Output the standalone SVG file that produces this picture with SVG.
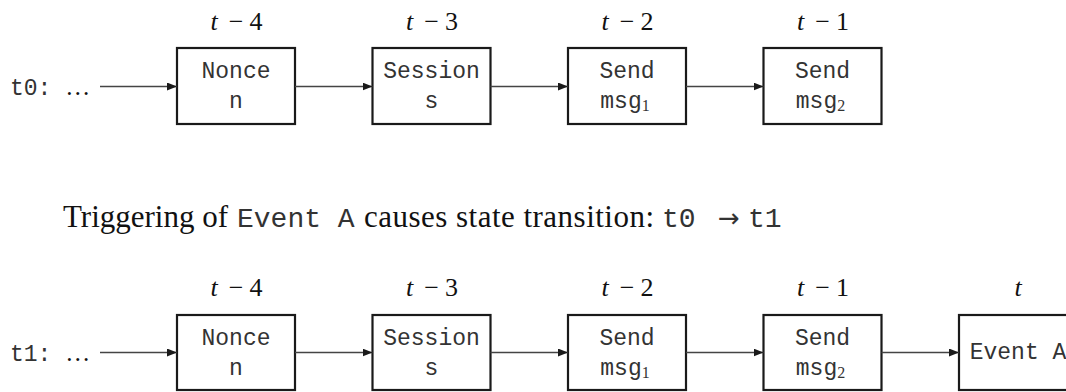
<svg xmlns="http://www.w3.org/2000/svg" width="1066" height="392" viewBox="0 0 1066 392">
  <style>
    .box { fill: #ffffff; stroke: #1a1a1a; stroke-width: 2.2; }
    .mono { font-family: "Liberation Mono", "Courier New", monospace; font-size: 23px; fill: #333333; text-anchor: middle; }
    .monol { font-family: "Liberation Mono", "Courier New", monospace; font-size: 23px; fill: #333333; }
    .serif { font-family: "Liberation Serif", "Times New Roman", serif; font-size: 25px; fill: #111111; }
    .math { font-family: "Liberation Serif", "Times New Roman", serif; font-size: 26px; fill: #111111; text-anchor: middle; }
    .it { font-style: italic; }
    .sub { font-family: "Liberation Serif", "Times New Roman", serif; font-size: 16px; }
    .cap { font-family: "Liberation Serif", "Times New Roman", serif; font-size: 31px; fill: #111111; }
    .capmono { font-family: "Liberation Mono", "Courier New", monospace; font-size: 28px; fill: #333333; }
    .edge { stroke: #444444; stroke-width: 1.3; fill: none; marker-end: url(#arrow); }
  </style>
  <defs>
    <marker id="arrow" viewBox="0 0 10 8" refX="10" refY="4" markerWidth="10" markerHeight="8" markerUnits="userSpaceOnUse" orient="auto">
      <path d="M0,0 L10,4 L0,8 Z" fill="#1a1a1a"/>
    </marker>
  </defs>
  <rect width="1066" height="392" fill="#ffffff"/>

  <!-- row t0 -->
  <g id="row0-label">
    <text class="monol" x="10" y="95">t0: <tspan class="serif">…</tspan></text>
  </g>

  <g id="row0-nonce">
    <rect class="box" x="177" y="48" width="118" height="76"/>
    <text class="math" y="30"><tspan class="it" x="214">t</tspan><tspan x="236">−</tspan><tspan x="256">4</tspan></text>
    <text class="mono" x="236" y="78">Nonce</text>
    <text class="mono" x="236" y="108">n</text>
  </g>
  <g id="row0-session">
    <rect class="box" x="372.5" y="48" width="118" height="76"/>
    <text class="math" y="30"><tspan class="it" x="409.5">t</tspan><tspan x="431.5">−</tspan><tspan x="451.5">3</tspan></text>
    <text class="mono" x="431.5" y="78">Session</text>
    <text class="mono" x="431.5" y="108">s</text>
  </g>
  <g id="row0-send1">
    <rect class="box" x="568" y="48" width="118" height="76"/>
    <text class="math" y="30"><tspan class="it" x="605">t</tspan><tspan x="627">−</tspan><tspan x="647">2</tspan></text>
    <text class="mono" x="627" y="78">Send</text>
    <text class="mono" x="625" y="108">msg<tspan class="sub" dy="3">1</tspan></text>
  </g>
  <g id="row0-send2">
    <rect class="box" x="763.5" y="48" width="118" height="76"/>
    <text class="math" y="30"><tspan class="it" x="800.5">t</tspan><tspan x="822.5">−</tspan><tspan x="842.5">1</tspan></text>
    <text class="mono" x="822.5" y="78">Send</text>
    <text class="mono" x="820.5" y="108">msg<tspan class="sub" dy="3">2</tspan></text>
  </g>

  <g id="row0-connectors">
    <line class="edge" x1="100" y1="86.5" x2="177" y2="86.5"/>
    <line class="edge" x1="295" y1="86.5" x2="372.5" y2="86.5"/>
    <line class="edge" x1="490.5" y1="86.5" x2="568" y2="86.5"/>
    <line class="edge" x1="686" y1="86.5" x2="763.5" y2="86.5"/>
  </g>

  <!-- transition caption -->
  <g id="caption">
    <text class="cap" x="63" y="227">Triggering of</text>
    <text class="capmono" x="237" y="227">Event A</text>
    <text class="cap" x="364" y="227" textLength="290" lengthAdjust="spacing">causes state transition:</text>
    <text class="capmono" x="662" y="227">t0</text>
    <text x="729" y="227" text-anchor="middle" font-family="DejaVu Sans, sans-serif" font-size="26" fill="#333333">→</text>
    <text class="capmono" x="748" y="227">t1</text>
  </g>

  <!-- row t1 -->
  <g id="row1-label">
    <text class="monol" x="10" y="361">t1: <tspan class="serif">…</tspan></text>
  </g>

  <g id="row1-nonce">
    <rect class="box" x="177" y="315" width="118" height="75"/>
    <text class="math" y="296"><tspan class="it" x="214">t</tspan><tspan x="236">−</tspan><tspan x="256">4</tspan></text>
    <text class="mono" x="236" y="345">Nonce</text>
    <text class="mono" x="236" y="375">n</text>
  </g>
  <g id="row1-session">
    <rect class="box" x="372.5" y="315" width="118" height="75"/>
    <text class="math" y="296"><tspan class="it" x="409.5">t</tspan><tspan x="431.5">−</tspan><tspan x="451.5">3</tspan></text>
    <text class="mono" x="431.5" y="345">Session</text>
    <text class="mono" x="431.5" y="375">s</text>
  </g>
  <g id="row1-send1">
    <rect class="box" x="568" y="315" width="118" height="75"/>
    <text class="math" y="296"><tspan class="it" x="605">t</tspan><tspan x="627">−</tspan><tspan x="647">2</tspan></text>
    <text class="mono" x="627" y="345">Send</text>
    <text class="mono" x="625" y="375">msg<tspan class="sub" dy="3">1</tspan></text>
  </g>
  <g id="row1-send2">
    <rect class="box" x="763.5" y="315" width="118" height="75"/>
    <text class="math" y="296"><tspan class="it" x="800.5">t</tspan><tspan x="822.5">−</tspan><tspan x="842.5">1</tspan></text>
    <text class="mono" x="822.5" y="345">Send</text>
    <text class="mono" x="820.5" y="375">msg<tspan class="sub" dy="3">2</tspan></text>
  </g>
  <g id="row1-event">
    <rect class="box" x="959" y="315" width="118" height="75"/>
    <text class="math it" x="1018" y="296">t</text>
    <text class="mono" x="1018" y="359">Event A</text>
  </g>

  <g id="row1-connectors">
    <line class="edge" x1="100" y1="352.5" x2="177" y2="352.5"/>
    <line class="edge" x1="295" y1="352.5" x2="372.5" y2="352.5"/>
    <line class="edge" x1="490.5" y1="352.5" x2="568" y2="352.5"/>
    <line class="edge" x1="686" y1="352.5" x2="763.5" y2="352.5"/>
    <line class="edge" x1="881.5" y1="352.5" x2="959" y2="352.5"/>
  </g>
</svg>
